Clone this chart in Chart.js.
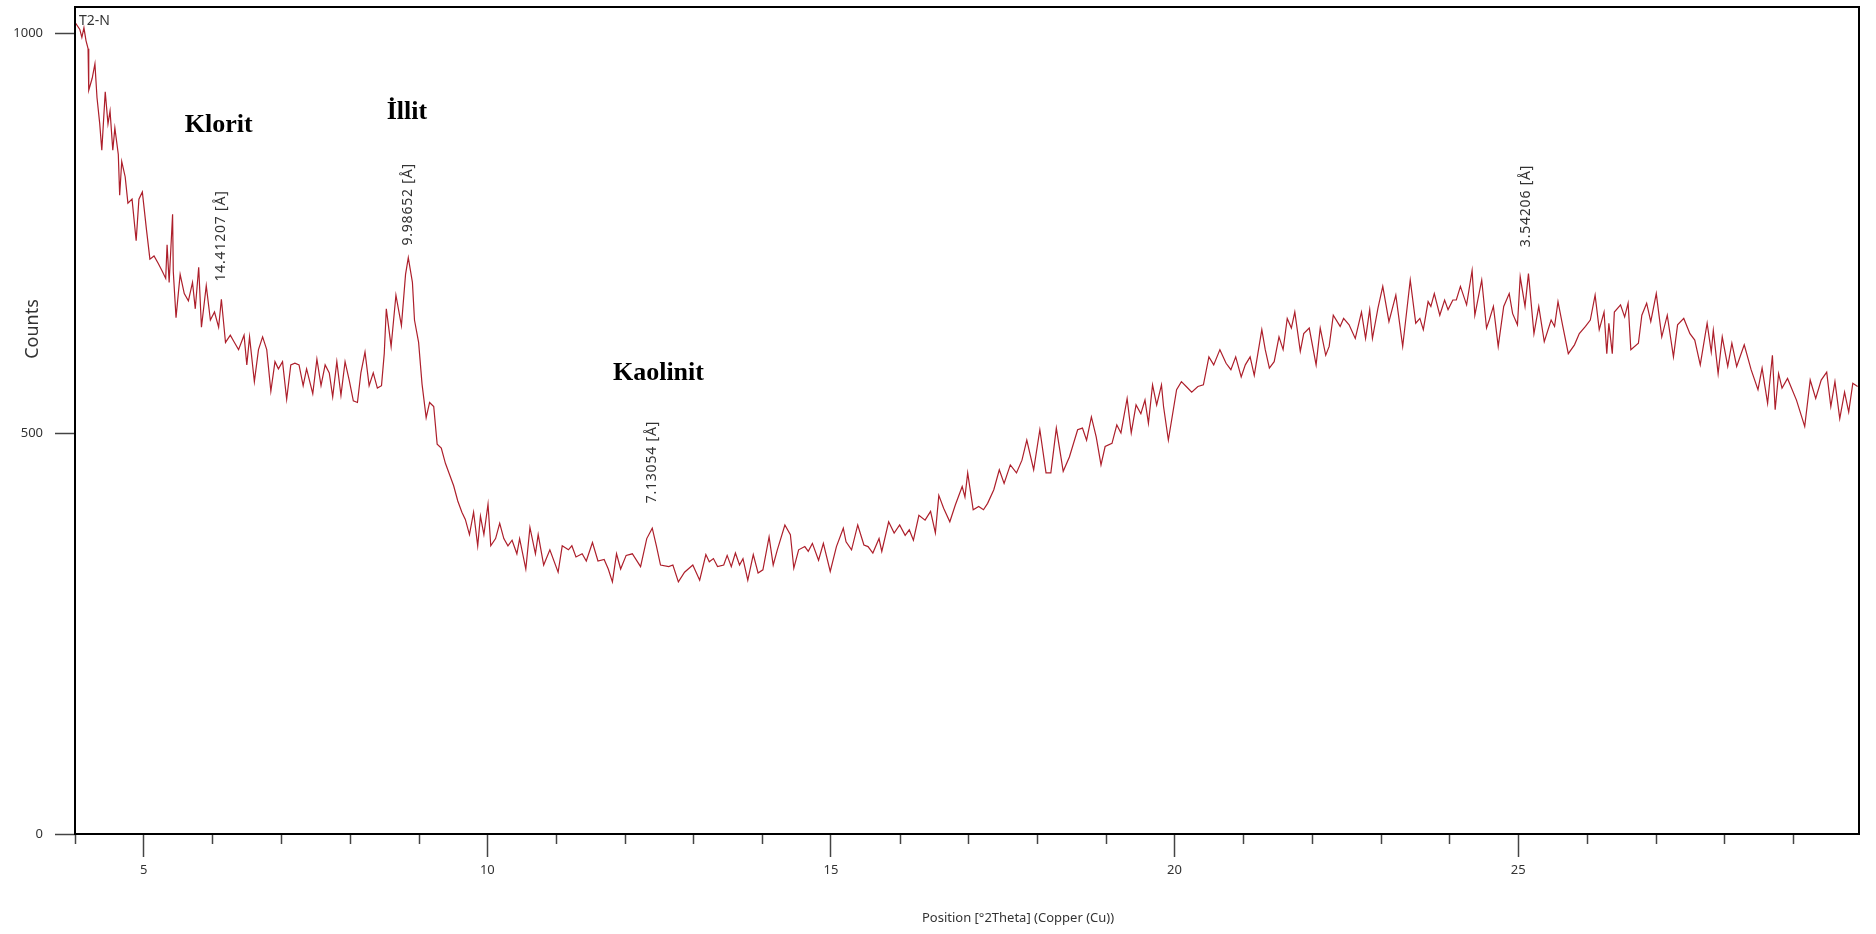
<!DOCTYPE html>
<html>
<head>
<meta charset="utf-8">
<title>T2-N</title>
<script src="https://cdn.jsdelivr.net/npm/chart.js@4.4.1/dist/chart.umd.min.js"></script>
<style>
  html, body { margin: 0; padding: 0; background: #fff; }
  #wrap { width: 1876px; height: 934px; position: relative; }
</style>
</head>
<body>
<div id="wrap"><canvas id="xrdChart"></canvas></div>
<script>
// T2-N scan, Cu radiation: position (°2θ) and counts
const twoTheta = [
  4.00, 4.07, 4.10, 4.13, 4.16, 4.19, 4.20, 4.25, 4.29, 4.32,
  4.36, 4.39, 4.44, 4.48, 4.51, 4.55, 4.58, 4.63, 4.65, 4.68,
  4.73, 4.77, 4.83, 4.89, 4.93, 4.98, 5.04, 5.09, 5.15, 5.21,
  5.27, 5.32, 5.34, 5.37, 5.42, 5.43, 5.47, 5.53, 5.59, 5.65,
  5.71, 5.75, 5.80, 5.84, 5.91, 5.97, 6.03, 6.09, 6.13, 6.19,
  6.26, 6.32, 6.38, 6.46, 6.50, 6.54, 6.61, 6.67, 6.73, 6.79,
  6.85, 6.91, 6.96, 7.02, 7.08, 7.14, 7.20, 7.26, 7.32, 7.37,
  7.46, 7.52, 7.58, 7.64, 7.70, 7.75, 7.81, 7.87, 7.93, 7.99,
  8.05, 8.11, 8.16, 8.22, 8.28, 8.34, 8.40, 8.46, 8.50, 8.53,
  8.60, 8.67, 8.75, 8.81, 8.85, 8.91, 8.94, 9.00, 9.05, 9.11,
  9.16, 9.22, 9.27, 9.33, 9.39, 9.45, 9.51, 9.57, 9.63, 9.68,
  9.74, 9.80, 9.86, 9.90, 9.95, 10.01, 10.05, 10.12, 10.18, 10.24,
  10.30, 10.36, 10.43, 10.47, 10.56, 10.62, 10.70, 10.74, 10.82, 10.91,
  11.03, 11.09, 11.18, 11.23, 11.29, 11.38, 11.44, 11.53, 11.61, 11.70,
  11.76, 11.82, 11.88, 11.94, 12.02, 12.11, 12.23, 12.32, 12.40, 12.46,
  12.52, 12.64, 12.70, 12.78, 12.87, 12.99,
  13.09, 13.18, 13.23, 13.29, 13.35, 13.44, 13.49, 13.55, 13.61, 13.67,
  13.72, 13.79, 13.87, 13.94, 14.01, 14.10, 14.16, 14.22, 14.33, 14.41,
  14.46, 14.53, 14.62, 14.67, 14.73, 14.82, 14.89, 14.99, 15.08, 15.18,
  15.22, 15.30, 15.39, 15.48, 15.54, 15.61, 15.70, 15.74, 15.84, 15.92,
  16.00, 16.08, 16.14, 16.20, 16.28, 16.37, 16.45, 16.52, 16.57, 16.64,
  16.73, 16.81, 16.91, 16.95, 16.99, 17.07, 17.15, 17.22, 17.28, 17.37,
  17.45, 17.52, 17.61, 17.70, 17.78, 17.85, 17.95, 18.04, 18.13, 18.20,
  18.28, 18.38, 18.47, 18.59, 18.66, 18.72, 18.79, 18.86, 18.93, 18.99,
  19.09, 19.16, 19.22, 19.31, 19.37, 19.44, 19.51, 19.57, 19.62, 19.68,
  19.74, 19.81, 19.84, 19.91, 20.03, 20.10, 20.17, 20.25, 20.34, 20.42,
  20.50, 20.57, 20.66, 20.75, 20.82, 20.89, 20.97, 21.03, 21.10, 21.16,
  21.27, 21.32, 21.38, 21.45, 21.52, 21.58, 21.64, 21.70, 21.75, 21.83,
  21.88, 21.96, 22.06, 22.12, 22.20, 22.25, 22.31, 22.41, 22.46, 22.54,
  22.63, 22.72, 22.78, 22.84, 22.88, 22.96, 23.03, 23.12, 23.22, 23.32,
  23.43, 23.51, 23.57, 23.62, 23.69, 23.73, 23.78, 23.86, 23.93, 23.98,
  24.05, 24.10, 24.16, 24.25, 24.33, 24.37, 24.47, 24.54, 24.58, 24.64,
  24.71, 24.79, 24.87, 24.92, 24.99, 25.03, 25.10, 25.15, 25.23, 25.30,
  25.38, 25.48, 25.53, 25.58, 25.65, 25.73, 25.82, 25.89, 25.98, 26.05,
  26.12, 26.18, 26.25, 26.29, 26.32, 26.37, 26.40, 26.49, 26.55, 26.60,
  26.64, 26.75, 26.80, 26.87, 26.93, 27.01, 27.09, 27.17, 27.26, 27.32,
  27.41, 27.50, 27.57, 27.65, 27.75, 27.81, 27.84, 27.91, 27.97, 28.05,
  28.11, 28.18, 28.29, 28.39, 28.49, 28.55, 28.63, 28.70, 28.74, 28.79,
  28.84, 28.92, 29.05, 29.17, 29.25, 29.33, 29.41, 29.49, 29.55, 29.61,
  29.68, 29.75, 29.81, 29.87, 29.94
];

const counts = [
  1014, 1005, 995, 1007, 991, 981, 929, 944, 962, 920,
  887, 854, 927, 887, 903, 854, 882, 849, 798, 840,
  821, 788, 793, 741, 793, 802, 755, 718, 722, 713,
  703, 694, 736, 689, 774, 703, 645, 699, 675, 666,
  689, 656, 708, 633, 685, 642, 652, 633, 668, 614,
  623, 614, 605, 623, 586, 621, 565, 605, 621, 605,
  553, 590, 581, 590, 543, 586, 588, 586, 560, 581,
  550, 593, 560, 586, 576, 546, 590, 548, 590, 567,
  541, 539, 576, 602, 560, 576, 557, 560, 600, 656,
  609, 673, 635, 699, 720, 689, 642, 614, 562, 520,
  539, 534, 487, 482, 463, 449, 435, 416, 402, 393,
  374, 402, 360, 397, 374, 412, 360, 369, 388, 369,
  360, 367, 350, 369, 331, 383, 350, 374, 336, 355,
  327, 360, 355, 360, 346, 350, 341, 364, 341, 343,
  331, 315, 350, 331, 348, 350, 334, 369, 382, 360,
  336, 334, 336, 315, 327, 336,
  317, 349, 340, 344, 334, 336, 348, 334, 351, 336,
  344, 317, 349, 326, 330, 371, 336, 355, 386, 374,
  332, 355, 359, 353, 363, 342, 363, 328, 359, 382,
  365, 355, 386, 361, 359, 351, 369, 353, 390, 376,
  386, 373, 380, 367, 398, 392, 403, 376, 423, 407,
  390, 411, 434, 421, 451, 405, 409, 405, 413, 430,
  455, 438, 461, 451, 467, 492, 455, 505, 451, 451,
  507, 453, 471, 505, 507, 492, 521, 496, 461, 484,
  488, 511, 501, 544, 501, 536, 525, 542, 513, 561,
  536, 561, 534, 492, 555, 565, 559, 552, 559, 561,
  596, 586, 605, 588, 580, 596, 571, 586, 596, 573,
  630, 605, 582, 590, 621, 605, 644, 632, 652, 603,
  625, 632, 586, 632, 598, 609, 648, 634, 644, 636,
  619, 652, 619, 655, 619, 657, 684, 640, 673, 609,
  692, 638, 644, 630, 665, 659, 675, 648, 667, 655,
  667, 667, 684, 661, 704, 648, 692, 632, 642, 659,
  609, 659, 675, 650, 636, 696, 659, 700, 625, 659,
  615, 642, 634, 665, 634, 600, 611, 625, 634, 642,
  673, 630, 652, 600, 638, 600, 652, 661, 646, 663,
  605, 613, 648, 663, 640, 675, 621, 648, 596, 636,
  644, 625, 617, 586, 638, 602, 629, 575, 621, 584,
  613, 584, 611, 580, 555, 582, 538, 598, 530, 575,
  557, 569, 542, 509, 567, 544, 567, 577, 534, 565,
  519, 552, 527, 563, 559
];

// marked reflections: position (°2θ) and d-spacing (Å)
const peakAngles = [6.13, 8.85, 12.40, 25.12];
const peakSpacings = ['14.41207', '9.98652', '7.13054', '3.54206'];

// clay minerals named on the pattern
const mineralNames = ['Klorit', 'İllit', 'Kaolinit'];
const mineralAngles = [6.09, 8.83, 12.49];

const xTickValues = [5, 10, 15, 20, 25];
const yTickValues = [0, 500, 1000];

// where the text pieces sit (in counts, so they follow the y scale)
const peakLabelLevels = [690, 735, 413, 733];
const mineralLevels = [877, 893, 567];

const overlay = {
  id: 'overlay',
  afterDraw(chart) {
    const { ctx, chartArea: a, scales: { x, y } } = chart;
    ctx.save();

    // minor ticks every 1 °2θ
    ctx.strokeStyle = '#444';
    ctx.lineWidth = 1.5;
    for (let t = 4; t < 30; t++) {
      if (t % 5 === 0) continue;
      const px = Math.round(x.getPixelForValue(t)) + 0.5;
      ctx.beginPath();
      ctx.moveTo(px, a.bottom);
      ctx.lineTo(px, a.bottom + 10);
      ctx.stroke();
    }

    // plot frame
    ctx.strokeStyle = '#000';
    ctx.lineWidth = 2;
    ctx.strokeRect(a.left, a.top, a.right - a.left, a.bottom - a.top);

    // scan name
    ctx.fillStyle = '#333';
    ctx.font = '14px "Noto Sans"';
    ctx.textAlign = 'left';
    ctx.textBaseline = 'middle';
    ctx.fillText('T2-N', a.left + 4, a.top + 14);

    // axis titles
    ctx.font = '13px "Noto Sans"';
    ctx.textAlign = 'center';
    ctx.fillText('Position [°2Theta] (Copper (Cu))', 1018, 918);

    ctx.save();
    ctx.translate(33, 329);
    ctx.rotate(-Math.PI / 2);
    ctx.font = '18px "Noto Sans"';
    ctx.fillText('Counts', 0, 0);
    ctx.restore();

    // d-spacing labels, written upward
    ctx.font = '14px "Noto Sans"';
    ctx.letterSpacing = '0.8px';
    ctx.fillStyle = '#333';
    peakAngles.forEach((t, i) => {
      ctx.save();
      ctx.translate(x.getPixelForValue(t), y.getPixelForValue(peakLabelLevels[i]));
      ctx.rotate(-Math.PI / 2);
      ctx.textAlign = 'left';
      ctx.textBaseline = 'middle';
      ctx.fillText(peakSpacings[i] + ' [Å]', 0, 0);
      ctx.restore();
    });
    ctx.letterSpacing = '0px';

    // mineral names
    ctx.fillStyle = '#000';
    ctx.font = 'bold 26px "Liberation Serif"';
    ctx.textAlign = 'center';
    ctx.textBaseline = 'alphabetic';
    mineralNames.forEach((name, i) => {
      ctx.fillText(name, x.getPixelForValue(mineralAngles[i]), y.getPixelForValue(mineralLevels[i]));
    });

    ctx.restore();
  }
};

new Chart(document.getElementById('xrdChart'), {
  type: 'line',
  data: {
    datasets: [{
      data: twoTheta.map((t, i) => ({ x: t, y: counts[i] })),
      borderColor: '#ad1f2b',
      borderWidth: 1.2,
      pointRadius: 0,
      tension: 0,
      fill: false
    }]
  },
  options: {
    responsive: true,
    maintainAspectRatio: false,
    animation: false,
    layout: { padding: { top: 7, right: 17, left: 0, bottom: 0 } },
    plugins: {
      legend: { display: false },
      tooltip: { enabled: false }
    },
    scales: {
      x: {
        type: 'linear',
        min: 4,
        max: 29.96,
        afterBuildTicks: s => { s.ticks = xTickValues.map(v => ({ value: v })); },
        afterFit: s => {
          s.height = 100;
          s.paddingLeft = 0;
          s.paddingRight = 0;
        },
        border: { display: false },
        grid: { drawOnChartArea: false, tickLength: 23, tickColor: '#444', tickWidth: 1.5 },
        ticks: {
          padding: 5,
          color: '#333',
          maxRotation: 0,
          autoSkip: false,
          font: { family: 'Noto Sans', size: 13 },
          callback: v => String(v)
        }
      },
      y: {
        min: 0,
        max: 1033,
        afterBuildTicks: s => { s.ticks = yTickValues.map(v => ({ value: v })); },
        afterFit: s => {
          s.width = 75;
          s.paddingTop = 0;
          s.paddingBottom = 0;
        },
        border: { display: false },
        grid: { drawOnChartArea: false, tickLength: 20, tickColor: '#444', tickWidth: 1.5 },
        ticks: {
          padding: 12,
          color: '#333',
          font: { family: 'Noto Sans', size: 13 },
          callback: v => String(v)
        }
      }
    }
  },
  plugins: [overlay]
});
</script>
</body>
</html>
